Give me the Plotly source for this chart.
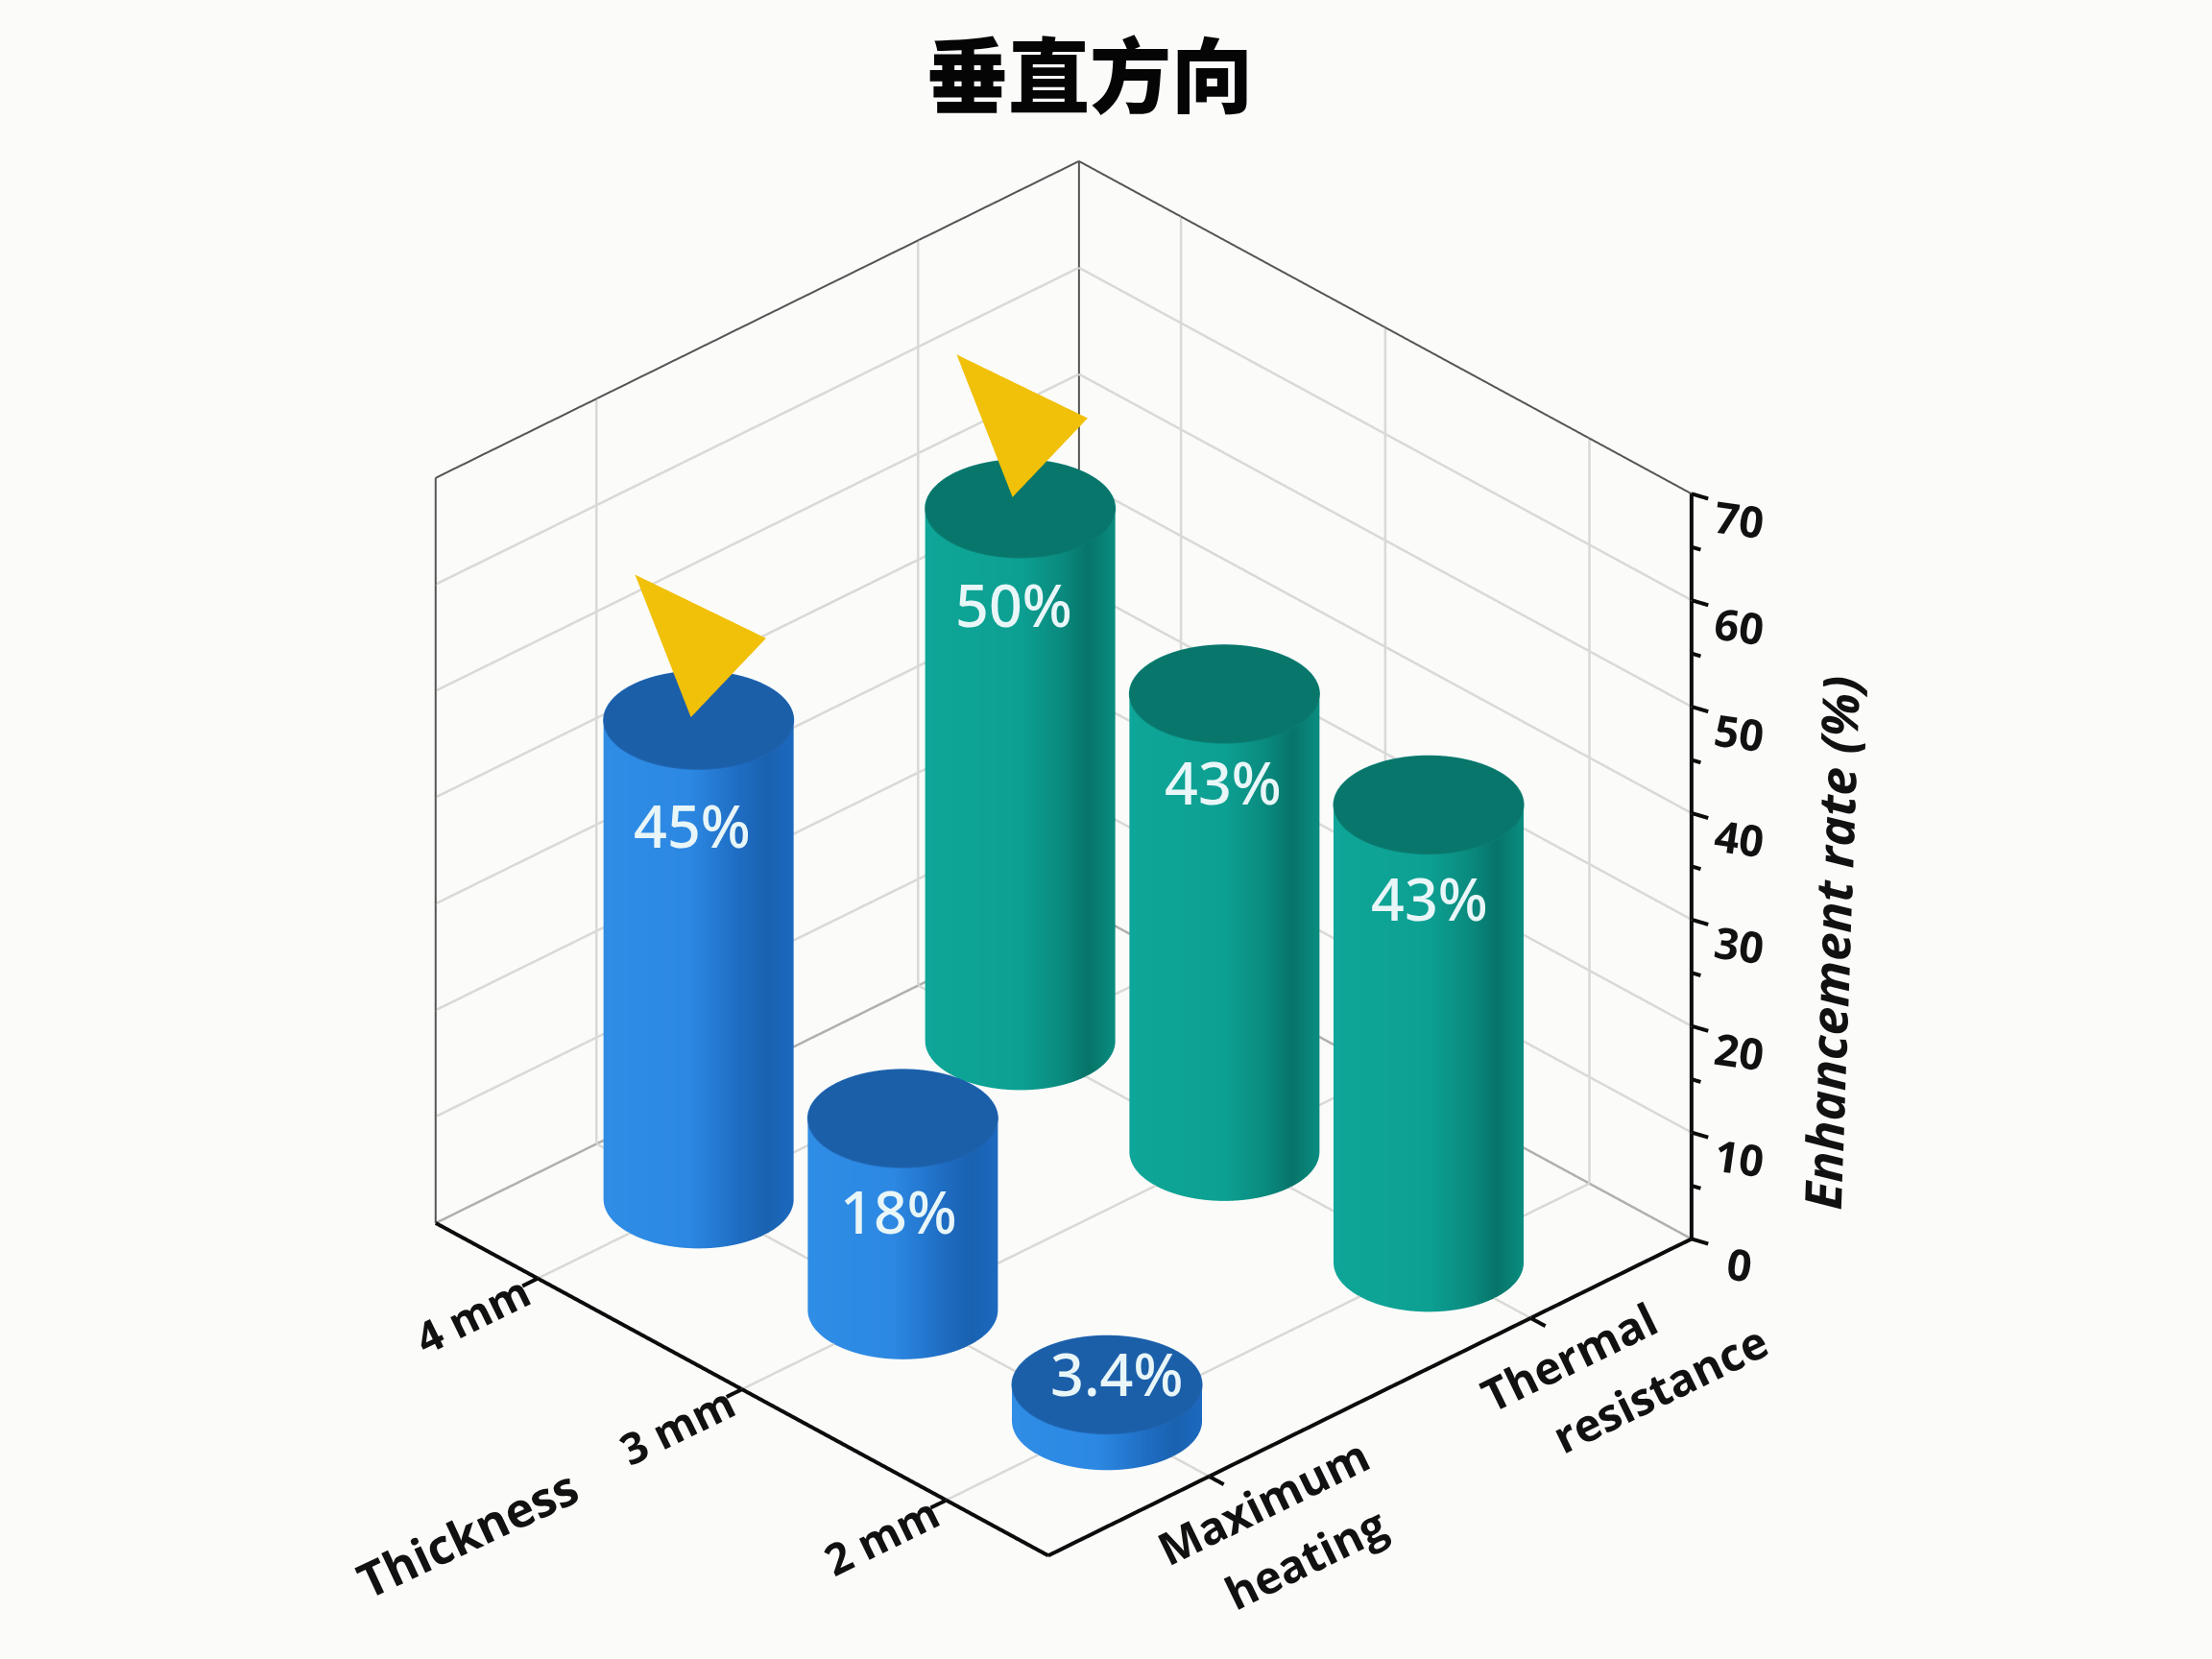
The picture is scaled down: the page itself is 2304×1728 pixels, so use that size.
import numpy as np
import plotly.graph_objects as go

# ---------- data ----------
title_text = "垂直方向"
metric_lines = [["Maximum", "heating"], ["Thermal", "resistance"]]
metric_pos = [0, 1]
thickness_names = ["2 mm", "3 mm", "4 mm"]
thickness_mm = [2, 3, 4]
heating_values = [3.4, 18, 45]
resistance_values = [43, 43, 50]
heating_labels = ["3.4%", "18%", "45%"]
resistance_labels = ["43%", "43%", "50%"]
z_major = [0, 10, 20, 30, 40, 50, 60, 70]
z_minor = [5, 15, 25, 35, 45, 55, 65]
pointer_bars = [(0, 4, 44.2), (1, 4, 50)]
# height at which each value label sits on its bar
heating_label_z = [4.5, 9.3, 35.1]
resistance_label_z = [34.2, 34.7, 41]
heating_label_dx = [10, -4, -7]
resistance_label_dx = [1, -1, -7]

# ---------- axis extents / view ----------
X0, X1 = -0.5, 1.5
Y0, Y1 = 1.5, 4.5
Z0, Z1 = 0, 70
PAD = 0.1
XS, YS, ZS = X1 - X0, Y1 - Y0, Z1 - Z0
Z_ASPECT = 0.98
AZ = np.radians(43.6)
EL = np.arcsin(0.517)
PX_PER_UNIT = 922.0
WORLD_PX = 861.0
ZOOM = PX_PER_UNIT / WORLD_PX
DIST = 2.26
BG = "#fbfbfa"

R_NORM = 0.107  # cylinder radius as a fraction of a floor side


def screen_to_data(sx, sy):
    """Offset in px (right, up) -> data offset inside the vertical view plane."""
    return (
        sx * np.cos(AZ) / PX_PER_UNIT * XS,
        -sx * np.sin(AZ) / PX_PER_UNIT * YS,
        sy / (PX_PER_UNIT * Z_ASPECT * np.cos(EL)) * ZS,
    )


def segs(points):
    xs, ys, zs = [], [], []
    for a, b in points:
        xs += [a[0], b[0], None]
        ys += [a[1], b[1], None]
        zs += [a[2], b[2], None]
    return xs, ys, zs


def line_trace(points, color, width):
    x, y, z = segs(points)
    return go.Scatter3d(x=x, y=y, z=z, mode="lines", line=dict(color=color, width=width),
                        hoverinfo="skip", showlegend=False)


traces = []

# ---------- grid ----------
grid = []
for z in z_major[1:-1]:
    grid.append(((X0, Y1, z), (X1, Y1, z)))
    grid.append(((X1, Y0, z), (X1, Y1, z)))
for x in metric_pos:
    grid.append(((x, Y1, Z0), (x, Y1, Z1)))
    grid.append(((x, Y0, Z0), (x, Y1, Z0)))
for y in thickness_mm:
    grid.append(((X1, y, Z0), (X1, y, Z1)))
    grid.append(((X0, y, Z0), (X1, y, Z0)))
traces.append(line_trace(grid, "#d9d9d7", 5))

# ---------- box edges ----------
traces.append(line_trace([
    ((X0, Y1, Z0), (X1, Y1, Z0)),
    ((X1, Y1, Z0), (X1, Y0, Z0)),
], "#b0b0ae", 5))
traces.append(line_trace([
    ((X0, Y1, Z0), (X0, Y1, Z1)),
    ((X0, Y1, Z1), (X1, Y1, Z1)),
    ((X1, Y1, Z1), (X1, Y0, Z1)),
    ((X1, Y1, Z0), (X1, Y1, Z1)),
], "#555555", 4))

# ---------- dark axes with ticks ----------
tx = 0.03 * XS
ty = 0.03 * YS
dark = [
    ((X0, Y0, Z0), (X0, Y1, Z0)),
    ((X0, Y0, Z0), (X1, Y0, Z0)),
    ((X1, Y0, Z0), (X1, Y0, Z1)),
]
for y in thickness_mm:
    dark.append(((X0, y, Z0), (X0 - tx * 0.8, y, Z0)))
for x in metric_pos:
    dark.append(((x, Y0, Z0), (x, Y0 - ty * 0.8, Z0)))
zx, zy = 0.3 * 0.0207 * XS, 0.0207 * YS
for z in z_major:
    dark.append(((X1, Y0, z), (X1 + zx, Y0 - zy, z)))
for z in z_minor:
    dark.append(((X1, Y0, z), (X1 + zx * 0.55, Y0 - zy * 0.55, z)))
traces.append(line_trace(dark, "#0c0c0c", 8))

# ---------- cylinders ----------
rx, ry = R_NORM * XS, R_NORM * YS
theta = np.linspace(0, 2 * np.pi, 181)
right_dir = np.array([np.cos(AZ), -np.sin(AZ)])
blue_scale = [[0, "#2f8de6"], [0.45, "#2c88e2"], [0.72, "#1e6cc2"], [0.86, "#1a62b0"], [1, "#1c69c0"]]
green_scale = [[0, "#0ea698"], [0.5, "#0ca092"], [0.72, "#0a8a7e"], [0.86, "#077469"], [1, "#0a8d80"]]


def cylinder(cx, cy, h, scale, cap_color, rim_color):
    cols = np.cos(theta) * right_dir[0] + np.sin(theta) * right_dir[1]
    px = cx + rx * np.cos(theta)
    py = cy + ry * np.sin(theta)
    X = np.vstack([px, px])
    Y = np.vstack([py, py])
    Z = np.vstack([np.zeros_like(px), np.full_like(px, h)])
    C = np.vstack([cols, cols])
    traces.append(go.Surface(
        x=X, y=Y, z=Z, surfacecolor=C, colorscale=scale, cmin=-1, cmax=1, showscale=False,
        lighting=dict(ambient=1, diffuse=0, specular=0, roughness=1, fresnel=0),
        hoverinfo="skip"))
    n = len(px)
    traces.append(go.Mesh3d(
        x=np.r_[cx, px], y=np.r_[cy, py], z=np.full(n + 1, h),
        i=np.zeros(n - 1, dtype=int), j=np.arange(1, n), k=np.arange(2, n + 1),
        color=cap_color, flatshading=True,
        lighting=dict(ambient=1, diffuse=0, specular=0, roughness=1, fresnel=0),
        hoverinfo="skip", showscale=False))
    traces.append(go.Scatter3d(x=px, y=py, z=np.full(n, h), mode="lines",
                               line=dict(color=rim_color, width=2),
                               hoverinfo="skip", showlegend=False))


for t, v in zip(thickness_mm, heating_values):
    cylinder(metric_pos[0], t, v, blue_scale, "#1c5fa9", "#1f66b4")
for t, v in zip(thickness_mm, resistance_values):
    cylinder(metric_pos[1], t, v, green_scale, "#08766b", "#0b7f74")

# ---------- pointers ----------
for px_, py_, v in pointer_bars:
    pts = [screen_to_data(-8, 12), screen_to_data(-66, 160), screen_to_data(70, 94)]
    traces.append(go.Mesh3d(
        x=[px_ + p[0] for p in pts], y=[py_ + p[1] for p in pts], z=[v + p[2] for p in pts],
        i=[0], j=[1], k=[2], color="#f1c109", flatshading=True,
        lighting=dict(ambient=1, diffuse=0, specular=0, roughness=1, fresnel=0),
        hoverinfo="skip"))

# ---------- text ----------
TICK_FONT = dict(family="Open Sans", size=45, color="#111111", weight=700)
NAME_FONT = dict(family="Open Sans", size=50, color="#111111", weight=700)
CAT_FONT = dict(family="Open Sans", size=47, color="#111111", weight=700)
ann = []


def note(x, y, z, text, font, angle=0, sx=0, sy=0):
    ann.append(dict(x=x, y=y, z=z, text=text, showarrow=False, font=font, textangle=angle,
                    xshift=sx, yshift=sy, xanchor="center", yanchor="middle"))


BAR_FONT = dict(family="Noto Sans", size=61, color="#e9f6f8", weight=500)
for t, z, s, d in zip(thickness_mm, heating_label_z, heating_labels, heating_label_dx):
    note(metric_pos[0], t, z, s, BAR_FONT, sx=d)
for t, z, s, d in zip(thickness_mm, resistance_label_z, resistance_labels, resistance_label_dx):
    note(metric_pos[1], t, z, s, BAR_FONT, sx=d)

for t, s in zip(thickness_mm, thickness_names):
    note(X0, t, Z0, s, TICK_FONT, -26, -68, -37)
note(X0, 3, Z0, "Thickness", NAME_FONT, -25, -286, -150)
note(0, Y0, Z0, metric_lines[0][0], CAT_FONT, -26, 56, -26)
note(0, Y0, Z0, metric_lines[0][1], CAT_FONT, -26, 100, -85)
note(1, Y0, Z0, metric_lines[1][0], CAT_FONT, -26, 40, -40)
note(1, Y0, Z0, metric_lines[1][1], CAT_FONT, -26, 135, -73)
for z in z_major:
    note(X1, Y0, z, str(z), TICK_FONT, 8, 50, -26)
note(X1, Y0, 35, "Enhancement rate (%)",
     dict(family="Open Sans", size=53, color="#111111", weight=700, style="italic"), -88, 145, -79)

# ---------- camera ----------
eye_dir = np.array([-np.sin(AZ) * np.cos(EL), -np.cos(AZ) * np.cos(EL), np.sin(EL)])
r_vec = np.array([np.cos(AZ), -np.sin(AZ), 0.0])
u_vec = np.cross(eye_dir, r_vec)
center = (44 / WORLD_PX) * r_vec + (30 / WORLD_PX) * u_vec
eye = center + DIST * eye_dir

fig = go.Figure(traces)
axis = dict(visible=False, showspikes=False, autorange=False)
S = ZOOM * (1 + 2 * PAD)
fig.update_layout(
    width=2304, height=1728, margin=dict(l=0, r=0, t=0, b=0),
    paper_bgcolor=BG, plot_bgcolor=BG, showlegend=False,
    title=dict(text=title_text, x=0.4926, xanchor="center", y=0.953, yanchor="middle",
               font=dict(family="Noto Sans CJK SC", size=85, color="#050505", weight=900)),
    scene=dict(
        bgcolor=BG,
        domain=dict(x=[0, 1], y=[0, 1]),
        aspectmode="manual",
        aspectratio=dict(x=S, y=S, z=Z_ASPECT * S),
        xaxis=dict(range=[X0 - PAD * XS, X1 + PAD * XS], **axis),
        yaxis=dict(range=[Y0 - PAD * YS, Y1 + PAD * YS], **axis),
        zaxis=dict(range=[Z0 - PAD * ZS, Z1 + PAD * ZS], **axis),
        camera=dict(
            projection=dict(type="orthographic"),
            up=dict(x=0, y=0, z=1),
            eye=dict(x=float(eye[0]), y=float(eye[1]), z=float(eye[2])),
            center=dict(x=float(center[0]), y=float(center[1]), z=float(center[2])),
        ),
        annotations=ann,
    ),
)
fig.write_html("out.html", config=dict(displayModeBar=False),
               post_script="document.body.style.margin='0';")
